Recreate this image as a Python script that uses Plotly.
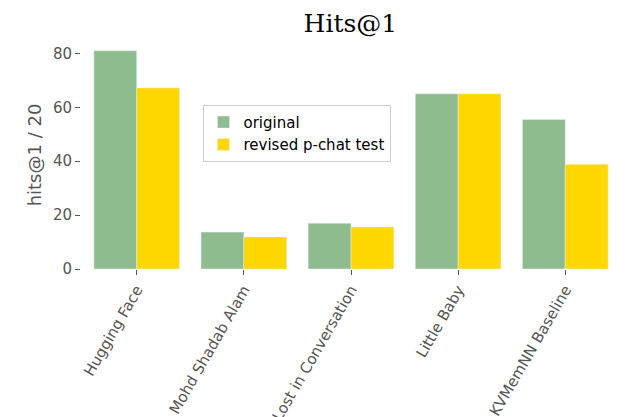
import plotly.graph_objects as go

models = ["Hugging Face", "Mohd Shadab Alam", "Lost in Conversation", "Little Baby", "KVMemNN Baseline"]
original = [81.0, 13.7, 17.0, 65.0, 55.5]
revised = [67.2, 11.9, 15.6, 65.0, 38.9]

fig = go.Figure()
fig.add_trace(go.Bar(x=models, y=original, name="original", marker_color="#8fbc8f"))
fig.add_trace(go.Bar(x=models, y=revised, name="revised p-chat test", marker_color="#ffd700"))

fig.update_layout(
    width=640, height=417,
    margin=dict(l=73, r=27, t=33, b=156),
    paper_bgcolor="white", plot_bgcolor="white",
    bargap=0.2, bargroupgap=0,
    font=dict(family="DejaVu Sans", size=15, color="#555555"),
    title=dict(text="Hits@1", x=0.535, y=0.985, xanchor="center", yanchor="top",
               font=dict(family="DejaVu Serif", size=25, color="black")),
    legend=dict(x=0.225, y=0.72, xanchor="left", yanchor="top",
                bordercolor="#cccccc", borderwidth=1, bgcolor="white",
                font=dict(size=15, color="black")),
)
fig.update_xaxes(tickangle=-60, ticks="outside", tickcolor="#555555", ticklen=5,
                 showline=False, range=[-0.52, 4.52], automargin=False)
fig.update_yaxes(title=dict(text="hits@1 / 20", standoff=6), range=[0, 84.6],
                 tickvals=[0, 20, 40, 60, 80], ticks="outside", tickcolor="#555555",
                 ticklen=5, showgrid=False, zeroline=False, automargin=False)

fig.write_html("out.html")
